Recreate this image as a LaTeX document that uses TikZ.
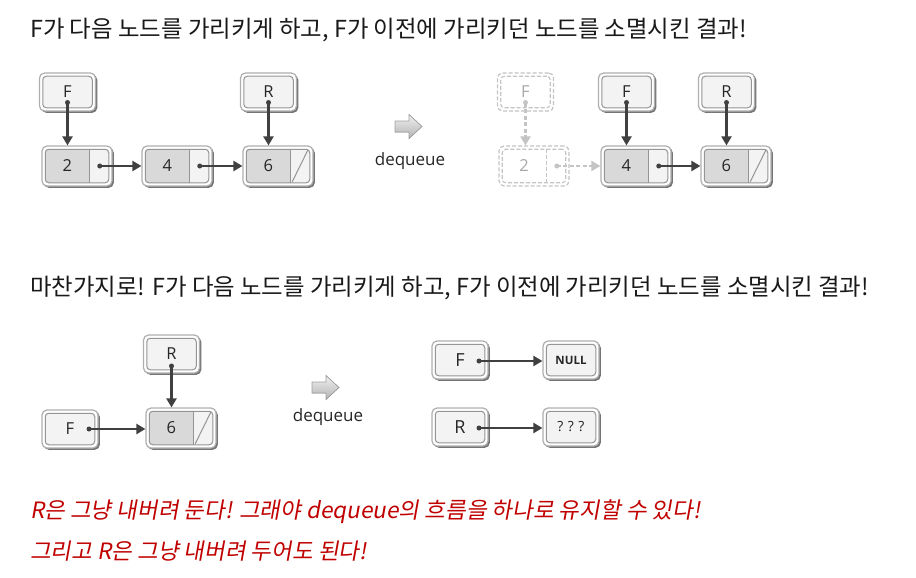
\documentclass[tikz,border=0pt]{standalone}
\usepackage{fontspec}
\setmainfont{Open Sans}
\newfontfamily\kr{Noto Sans CJK KR}
\newfontfamily\krhand[FakeSlant=0.18]{Noto Sans CJK KR}
\usetikzlibrary{arrows.meta,shadows}
\definecolor{bordL}{HTML}{AFAFAF}
\definecolor{bordD}{HTML}{959595}
\definecolor{ptrfill}{HTML}{F3F3F3}
\definecolor{datafill}{HTML}{D9D9D9}
\definecolor{arrowc}{HTML}{404040}
\definecolor{fadec}{HTML}{C4C4C4}
\definecolor{fadetext}{HTML}{A8A8A8}
\definecolor{handred}{HTML}{C00000}
\definecolor{txt}{HTML}{262626}
\tikzset{
  outerbox/.style={draw=bordL, fill=white, line width=1.2pt, rounded corners=5pt, inner sep=0pt,
    drop shadow={shadow xshift=1.8pt, shadow yshift=-1.8pt, fill=black!60, opacity=0.9}},
  innerbox/.style={draw=bordD, fill=ptrfill, line width=1pt, rounded corners=3.5pt, inner sep=0pt},
  fadeouter/.style={draw=fadec, fill=white, dash pattern=on 4pt off 2pt, line width=1.2pt, rounded corners=5pt, inner sep=0pt},
  fadeinner/.style={draw=fadec, fill=white, dash pattern=on 4pt off 2pt, line width=1.1pt, rounded corners=3.5pt, inner sep=0pt},
  lbl/.style={font=\fontsize{16.5}{18}\selectfont, text=txt, inner sep=0pt},
  biglbl/.style={font=\fontsize{18}{20}\selectfont, text=txt, inner sep=0pt},
  fadelbl/.style={font=\fontsize{16.5}{18}\selectfont, text=fadetext, inner sep=0pt},
  ptrarrow/.style={draw=arrowc, line width=2.1pt, -{Triangle[width=10pt,length=9pt]}},
  fadearrow/.style={draw=fadec, line width=2.1pt, dash pattern=on 4pt off 2.5pt, -{Triangle[width=10pt,length=9pt]}},
  startdot/.style={fill=arrowc, circle, inner sep=0pt, minimum size=5pt},
  fadedot/.style={fill=fadec, circle, inner sep=0pt, minimum size=5pt},
  title/.style={font=\kr\fontsize{23.4}{26}\selectfont, text=black!90, anchor=west, inner sep=0pt},
  hand/.style={font=\krhand\fontsize{22.5}{26}\selectfont, text=handred, anchor=west, inner sep=0pt},
  deq/.style={font=\fontsize{17}{19}\selectfont, text=txt, inner sep=0pt},
  blockarrow/.style={draw=gray!75, line width=0.7pt, top color=gray!12, bottom color=gray!60},
}
\newcommand\ptrbox[5][56]{% width, name, center, text, label style
  \node[outerbox, minimum width=#1pt, minimum height=38pt] (#2) at (#3) {};
  \node[innerbox, minimum width=#1pt-6.5pt, minimum height=31.5pt] (#2i) at (#2.center) {};
  \node[#5] (#2t) at (#2.center) {#4};
}
\newcommand\listnode[3]{% name, center, text
  \node[outerbox, minimum width=70pt, minimum height=40pt] (#1) at (#2) {};
  \node[innerbox, minimum width=63.5pt, minimum height=33.5pt,
    path picture={\fill[datafill, sharp corners] (path picture bounding box.north west) rectangle ([xshift=45pt]path picture bounding box.south west);}] (#1i) at (#1.center) {};
  \draw[bordD, line width=1pt] ([xshift=45pt]#1i.north west) -- ([xshift=45pt]#1i.south west);
  \coordinate (#1d) at ([xshift=22.5pt]#1i.west);
  \coordinate (#1l) at ([xshift=-9.5pt]#1i.east);
  \node[lbl] (#1t) at (#1d) {#3};
}
\newcommand\nullslash[1]{%
  \draw[bordD, line width=1pt] ([xshift=46.5pt, yshift=1.5pt]#1i.south west) -- ([xshift=-2.5pt, yshift=-1.5pt]#1i.north east);
}
\begin{document}
\begin{tikzpicture}[x=1pt, y=-1pt]
\path[use as bounding box] (0,0) rectangle (916,578);

% titles
\node[title] (t1) at (30,30) {F가 다음 노드를 가리키게 하고, F가 이전에 가리키던 노드를 소멸시킨 결과!};
\node[title] (t2) at (30,288) {마찬가지로! F가 다음 노드를 가리키게 하고, F가 이전에 가리키던 노드를 소멸시킨 결과!};

% ---------- top left ----------
\listnode{na}{77,166}{2}
\listnode{nb}{177,166}{4}
\listnode{nc}{278,166}{6}
\nullslash{nc}
\ptrbox{Fa}{67.5,92}{F}{lbl}
\ptrbox{Ra}{268.5,92}{R}{lbl}
\node[startdot] (Fadot) at ([yshift=-10.5pt]Fa.center) {};
\node[startdot] (Radot) at ([yshift=-10.5pt]Ra.center) {};
\draw[ptrarrow] (Fadot.center) -- (Fadot.center |- na.north);
\draw[ptrarrow] (Radot.center) -- (Radot.center |- nc.north);
\node[startdot] (nadot) at (nal) {};
\node[startdot] (nbdot) at (nbl) {};
\draw[ptrarrow] (nadot.center) -- (nb.west);
\draw[ptrarrow] (nbdot.center) -- (nc.west);

% dequeue 1
\filldraw[blockarrow] (395,121) -- (409,121) -- (409,114.5) -- (422,126.5) -- (409,138.5) -- (409,132) -- (395,132) -- cycle;
\node[deq] (dq1) at (410,161) {dequeue};

% ---------- top right ----------
\node[fadeouter, minimum width=70pt, minimum height=40pt] (fn) at (534,166) {};
\node[fadeinner, minimum width=63.5pt, minimum height=33.5pt] (fni) at (fn.center) {};
\draw[fadec, line width=1.1pt, dash pattern=on 4pt off 2pt] ([xshift=45pt]fni.north west) -- ([xshift=45pt]fni.south west);
\node[fadelbl] (fnt) at ([xshift=22.5pt]fni.west) {2};
\node[fadeouter, minimum width=56pt, minimum height=38pt] (fF) at (525.5,92) {};
\node[fadeinner, minimum width=49.5pt, minimum height=31.5pt] (fFi) at (fF.center) {};
\node[fadelbl] (fFt) at (fF.center) {F};

\listnode{nd}{636,166}{4}
\listnode{ne}{736,166}{6}
\nullslash{ne}
\ptrbox{Fb}{626.5,92}{F}{lbl}
\ptrbox{Rb}{726.5,92}{R}{lbl}
\node[fadedot] (fFdot) at ([yshift=-10.5pt]fF.center) {};
\draw[fadearrow] (fFdot.center) -- (fFdot.center |- fn.north);
\node[fadedot] (fndot) at ([xshift=-9.5pt]fni.east) {};
\draw[fadearrow] (fndot.center) -- (nd.west);
\node[startdot] (Fbdot) at ([yshift=-10.5pt]Fb.center) {};
\node[startdot] (Rbdot) at ([yshift=-10.5pt]Rb.center) {};
\draw[ptrarrow] (Fbdot.center) -- (Fbdot.center |- nd.north);
\draw[ptrarrow] (Rbdot.center) -- (Rbdot.center |- ne.north);
\node[startdot] (nddot) at (ndl) {};
\draw[ptrarrow] (nddot.center) -- (ne.west);

% ---------- bottom left ----------
\listnode{nf}{181,428}{6}
\nullslash{nf}
\ptrbox{Rc}{171.5,354}{R}{lbl}
\ptrbox{Fc}{70,429}{F}{lbl}
\node[startdot] (Rcdot) at ([yshift=-12pt]Rc.center) {};
\draw[ptrarrow] (Rcdot.center) -- (Rcdot.center |- nf.north);
\node[startdot] (Fcdot) at ([xshift=19pt]Fc.center) {};
\draw[ptrarrow] (Fcdot.center) -- (Fcdot.center -| nf.west);

% dequeue 2
\begin{scope}[shift={(-83,261)}]
\filldraw[blockarrow] (395,121) -- (409,121) -- (409,114.5) -- (422,126.5) -- (409,138.5) -- (409,132) -- (395,132) -- cycle;
\end{scope}
\node[deq] (dq2) at (328,417) {dequeue};

% ---------- bottom right ----------
\ptrbox{Fd}{460,360}{F}{biglbl}
\ptrbox{Rd}{460,427}{R}{biglbl}
\ptrbox{Nd}{571,360}{\fontsize{11.5}{12}\selectfont\bfseries NULL}{lbl}
\ptrbox{Qd}{571,427}{\fontsize{14}{15}\selectfont ?\hspace{4.5pt}?\hspace{4.5pt}?}{lbl}
\node[startdot] (Fddot) at ([xshift=19pt, yshift=-1pt]Fd.center) {};
\node[startdot] (Rddot) at ([xshift=19pt, yshift=-1pt]Rd.center) {};
\draw[ptrarrow] (Fddot.center) -- (Fddot.center -| Nd.west);
\draw[ptrarrow] (Rddot.center) -- (Rddot.center -| Qd.west);

% handwritten notes
\node[hand] (h1) at (30,512) {R은 그냥 내버려 둔다! 그래야 dequeue의 흐름을 하나로 유지할 수 있다!};
\node[hand] (h2) at (30,551) {그리고 R은 그냥 내버려 두어도 된다!};
\end{tikzpicture}
\end{document}
